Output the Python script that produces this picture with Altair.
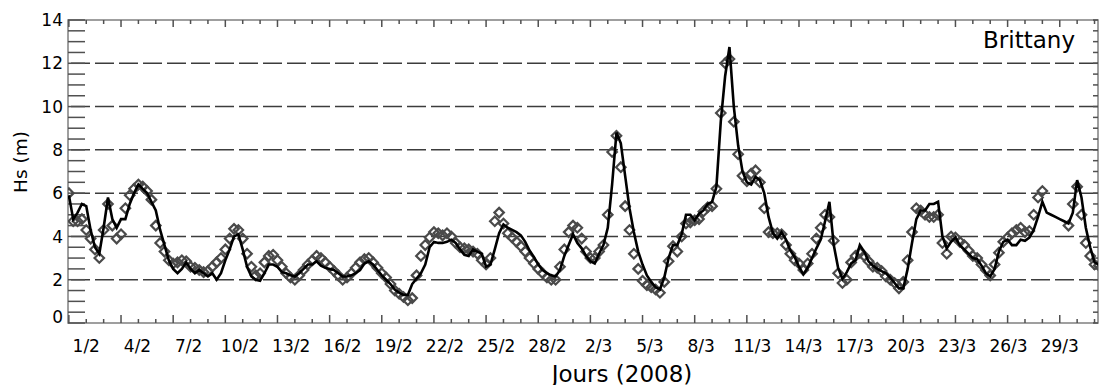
import altair as alt
import numpy as np
import pandas as pd

# ---------------- data (Hs in metres, every 6 h, starting at day index -1.0) ----
model_hs = [
    5.9, 4.8, 5.1, 5.5,
    5.4, 4.3, 3.5, 3.2,
    4.4, 5.8, 4.8, 4.4,
    4.8, 4.8, 5.5, 6.0,
    6.4, 6.2, 6.0, 5.6,
    5.2, 4.3, 3.6, 2.9,
    2.5, 2.3, 2.5, 2.8,
    2.5, 2.3, 2.45, 2.3,
    2.15, 2.3, 2.0, 2.3,
    2.9, 3.4, 4.0, 4.1,
    3.4, 2.6, 2.15, 2.0,
    1.95, 2.3, 2.7, 2.7,
    2.6, 2.35, 2.3, 2.2,
    2.15, 2.3, 2.5, 2.7,
    2.7, 2.85, 2.65, 2.55,
    2.5, 2.45, 2.3, 2.15,
    2.15, 2.2, 2.3, 2.45,
    2.75, 2.85, 2.7, 2.45,
    2.2, 2.0, 1.8, 1.55,
    1.4, 1.3, 1.3, 1.8,
    2.05, 2.3, 2.7, 3.5,
    3.75, 3.7, 3.7, 3.75,
    3.85, 3.7, 3.4, 3.15,
    3.1, 3.4, 3.3, 3.2,
    2.6, 2.7, 3.4, 4.15,
    4.55, 4.4, 4.3, 4.2,
    4.05, 3.75, 3.35, 3.05,
    2.7, 2.45, 2.3, 2.2,
    2.15, 2.45, 3.1, 3.6,
    4.1, 3.7, 3.45, 3.1,
    2.85, 2.75, 3.2, 3.6,
    4.4, 6.4, 8.8, 8.3,
    6.8, 5.3, 4.2, 3.3,
    2.7, 2.2, 1.9, 1.65,
    1.55, 2.1, 3.0, 3.6,
    3.6, 4.1, 5.0, 5.0,
    4.75, 5.05, 5.2, 5.5,
    5.6, 6.3, 9.3, 11.4,
    12.75, 10.0, 8.2, 7.0,
    6.5, 6.4, 6.75, 6.6,
    6.0, 4.9, 4.15, 3.9,
    4.2, 3.85, 3.35, 3.05,
    2.6, 2.25, 2.55, 3.0,
    3.45, 3.85, 4.7, 5.6,
    3.6, 2.55, 2.05, 2.35,
    2.75, 2.9, 3.6, 3.3,
    2.85, 2.65, 2.5, 2.4,
    2.3, 2.1, 1.85, 1.6,
    1.6, 2.5, 3.7, 4.8,
    5.2, 5.2, 5.5, 5.5,
    5.6, 4.0, 3.45, 3.75,
    3.95, 3.6, 3.4, 3.2,
    3.0, 2.95, 2.65, 2.3,
    2.15, 2.5, 3.3, 3.75,
    3.85, 3.6, 3.6, 3.85,
    3.8, 3.95, 4.3, 4.9,
    5.6, 5.1, 5.0, 4.9,
    4.8, 4.7, 4.6, 5.1,
    6.6, 5.8, 4.4, 3.5,
    2.8, 2.7,
]

obs_hs = [
    6.0, 4.7, 4.7, 4.8,
    4.3, 3.9, 3.4, 3.0,
    4.3, 5.5, 4.5, 3.9,
    4.1, 5.3, 5.9, 6.2,
    6.4, 6.3, 6.1, 5.7,
    4.5, 3.7, 3.3, 2.9,
    2.75, 2.8, 2.9, 2.85,
    2.6, 2.55, 2.45, 2.35,
    2.4, 2.6, 2.8, 3.0,
    3.4, 3.9, 4.35, 4.3,
    3.9, 3.2, 2.6, 2.2,
    2.3, 2.8, 3.1, 3.15,
    2.9, 2.6, 2.3, 2.1,
    2.0, 2.2, 2.45, 2.7,
    2.9, 3.1, 3.0, 2.8,
    2.6, 2.4, 2.2, 2.0,
    2.1, 2.3, 2.55, 2.8,
    2.95, 3.0, 2.8, 2.55,
    2.3, 2.1, 1.8, 1.5,
    1.35, 1.2, 1.05, 1.15,
    2.2, 3.1, 3.6, 3.95,
    4.2, 4.15, 4.05, 4.15,
    4.0, 3.7, 3.5, 3.45,
    3.4, 3.3, 3.2, 2.9,
    2.7, 3.0, 4.7, 5.1,
    4.6, 4.15, 3.95, 3.75,
    3.55, 3.3, 3.0, 2.75,
    2.5, 2.3, 2.1, 2.0,
    2.0, 2.6, 3.4, 4.2,
    4.5, 4.4, 3.9, 3.3,
    3.0, 3.0, 3.3, 3.6,
    5.0, 7.9, 8.65, 7.2,
    5.4, 4.3, 3.2, 2.5,
    1.95, 1.75, 1.65, 1.55,
    1.4, 1.9, 2.85, 3.55,
    3.3, 4.0, 4.6, 4.65,
    4.75, 4.8, 5.15, 5.35,
    5.4, 6.2, 9.7, 12.0,
    12.2, 9.3, 7.8, 6.8,
    6.55, 6.9, 7.05, 6.5,
    5.3, 4.2, 4.15, 4.15,
    4.1, 3.6, 3.2, 2.9,
    2.75, 2.45, 2.75, 3.2,
    3.9, 4.4, 5.0, 4.9,
    3.8, 2.3, 1.85, 2.0,
    2.8, 3.1, 3.25, 3.1,
    2.85, 2.6, 2.55, 2.4,
    2.15, 2.0, 1.85, 1.6,
    1.9, 2.9, 4.2, 5.3,
    5.2, 5.0, 4.9, 4.9,
    5.0, 3.7, 3.2, 4.0,
    3.95, 3.75, 3.6, 3.35,
    3.1, 3.0, 2.7, 2.45,
    2.2, 2.7, 3.25, 3.75,
    3.95, 4.15, 4.3, 4.4,
    4.2, 4.25, 5.0, 5.8,
    6.1, None, None, None,
    None, None, 4.5, 5.5,
    6.3, 5.0, 3.7, 3.1,
    2.7, 2.65,
]

date_labels = ["1/2", "4/2", "7/2", "10/2", "13/2", "16/2", "19/2", "22/2",
               "25/2", "28/2", "2/3", "5/3", "8/3", "11/3", "14/3", "17/3",
               "20/3", "23/3", "26/3", "29/3"]
grid_levels = [2, 4, 6, 8, 10, 12]
y_label_values = [0, 2, 4, 6, 8, 10, 12, 14]
x_title = ["Jours (2008)"]
y_title = ["Hs (m)"]
station = ["Brittany"]

# ---------------- tables ---------------------------------------------------
t = -1.0 + 0.25 * np.arange(len(model_hs))
df = pd.DataFrame({"n": t, "model": model_hs,
                   "obs": [np.nan if v is None else v for v in obs_hs]})

span = 56.0
xlab_df = pd.DataFrame({
    "pos": [k * span / (len(date_labels) - 1) for k in range(len(date_labels))],
    "lab": date_labels})
ylab_df = pd.DataFrame({"v": y_label_values,
                        "lab": [str(v) for v in y_label_values]})

W, H = 1030, 303
XS = alt.Scale(domain=[-1.05, 58.2], nice=False, zero=False)
YS = alt.Scale(domain=[0, 14], nice=False, zero=False)
FONT = "DejaVu Sans"
TICK = "#505050"

grid = alt.Chart(pd.DataFrame({"g": grid_levels})).mark_rule(
    color="#3c3c3c", strokeWidth=1.5, strokeDash=[19, 5]
).encode(y=alt.Y("g:Q", scale=YS, axis=None))

ytick_df = pd.DataFrame({"v": np.arange(0, 14.01, 0.5)})
left_ticks = alt.Chart(ytick_df).mark_rule(color=TICK, strokeWidth=1.5).encode(
    y=alt.Y("v:Q", scale=YS, axis=None), x=alt.value(0), x2=alt.value(17))
right_ticks = alt.Chart(ytick_df).mark_rule(color=TICK, strokeWidth=1.5).encode(
    y=alt.Y("v:Q", scale=YS, axis=None), x=alt.value(W - 5), x2=alt.value(W))

xt = pd.DataFrame({"d": np.arange(-1, 59)})
xt = xt[xt["d"] <= 58.2]
xt["major"] = ((xt["d"] - 2) % 3) == 0
minor_df, major_df = xt[~xt["major"]], xt[xt["major"]]


def xticks(data, y0, y1):
    return alt.Chart(data).mark_rule(color=TICK, strokeWidth=1.5).encode(
        x=alt.X("d:Q", scale=XS, axis=None), y=alt.value(y0), y2=alt.value(y1))


tick_layers = [xticks(minor_df, H, H - 4), xticks(major_df, H, H - 8),
               xticks(minor_df, 0, 4), xticks(major_df, 0, 7)]

# tick labels (text through the scales)
xlabels = alt.Chart(xlab_df).mark_text(
    font=FONT, fontSize=17, align="center", baseline="alphabetic", color="black"
).encode(x=alt.X("pos:Q", scale=XS, axis=None), y=alt.value(H + 29), text="lab:N")

ylabels = alt.Chart(ylab_df[ylab_df["v"] > 0]).mark_text(
    font=FONT, fontSize=17, align="right", baseline="alphabetic", dy=6.2,
    color="black"
).encode(y=alt.Y("v:Q", scale=YS, axis=None), x=alt.value(-5), text="lab:N")

ylabel0 = alt.Chart(ylab_df[ylab_df["v"] == 0]).mark_text(
    font=FONT, fontSize=17, align="right", baseline="alphabetic", dy=0,
    color="black"
).encode(y=alt.Y("v:Q", scale=YS, axis=None), x=alt.value(-5), text="lab:N")

xtitle = alt.Chart(pd.DataFrame({"s": x_title})).mark_text(
    font=FONT, fontSize=23, align="center", baseline="alphabetic", color="black"
).encode(text="s:N", x=alt.value(554), y=alt.value(H + 59))

ytitle = alt.Chart(pd.DataFrame({"s": y_title})).mark_text(
    font=FONT, fontSize=18.5, align="center", baseline="alphabetic", angle=270,
    color="black"
).encode(text="s:N", x=alt.value(-41), y=alt.value(142))

pts = alt.Chart(df).mark_point(
    shape="diamond", filled=False, size=90, strokeWidth=2.2,
    color="#4a4a4a", opacity=1, clip=True
).encode(x=alt.X("n:Q", scale=XS, axis=None),
         y=alt.Y("obs:Q", scale=YS, axis=None))

line = alt.Chart(df).mark_line(color="black", strokeWidth=2.6, clip=True).encode(
    x=alt.X("n:Q", scale=XS, axis=None),
    y=alt.Y("model:Q", scale=YS, axis=None))

label = alt.Chart(pd.DataFrame({"s": station})).mark_text(
    font=FONT, fontSize=23, align="right", baseline="alphabetic", color="black"
).encode(text="s:N", x=alt.value(1007), y=alt.value(28))

chart = alt.layer(
    grid, left_ticks, right_ticks, *tick_layers, pts, line,
    xlabels, ylabels, ylabel0, xtitle, ytitle, label
).properties(
    width=W, height=H,
    padding={"left": 60, "top": 12, "right": 1, "bottom": 64},
    autosize=alt.AutoSizeParams(type="none"),
).configure_view(stroke="#808080", strokeWidth=1.5)

chart.save("out.html", embed_options={"renderer": "svg", "actions": False})
